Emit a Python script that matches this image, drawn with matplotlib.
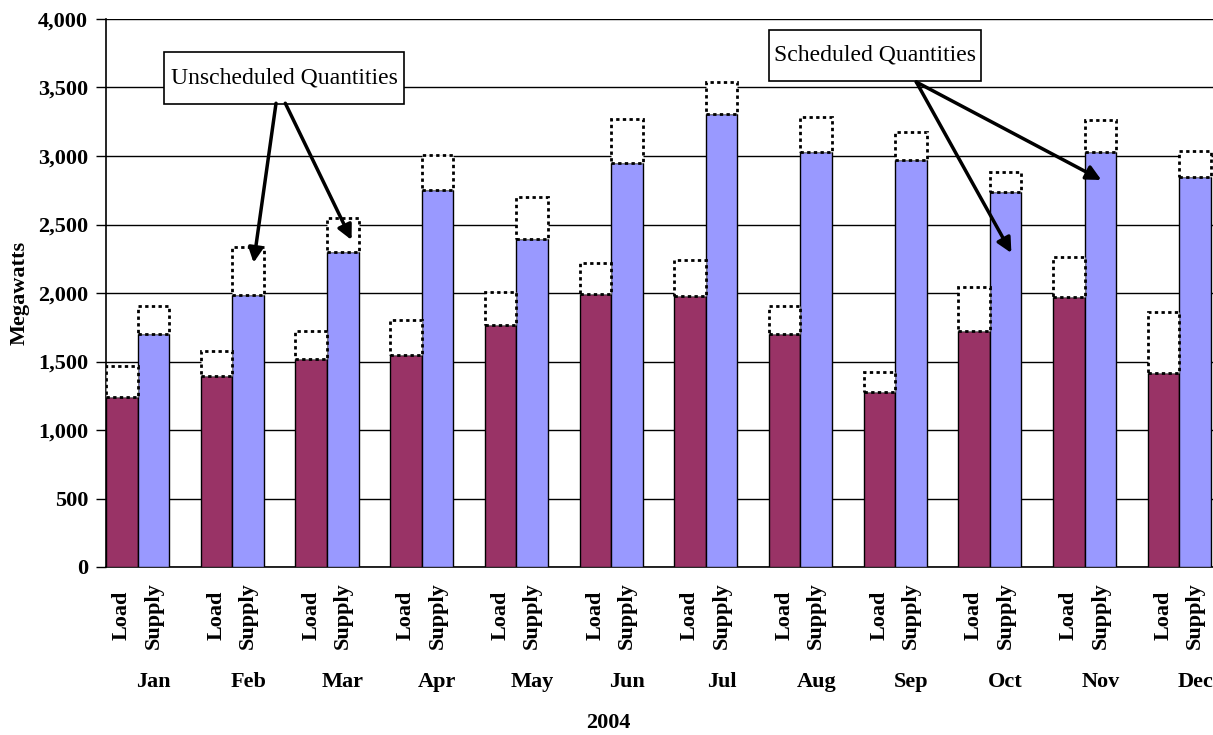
import matplotlib.pyplot as plt
from matplotlib.patches import Rectangle
import numpy as np

months = ["Jan", "Feb", "Mar", "Apr", "May", "Jun",
          "Jul", "Aug", "Sep", "Oct", "Nov", "Dec"]
# scheduled quantities (solid bars), MW
load_sched = [1240, 1397, 1520, 1547, 1763, 1994, 1979, 1700, 1275, 1724, 1971, 1414]
supply_sched = [1700, 1986, 2301, 2753, 2395, 2951, 3305, 3030, 2970, 2736, 3028, 2846]
# scheduled + unscheduled (top of dotted boxes), MW
load_total = [1469, 1580, 1719, 1804, 2006, 2221, 2243, 1908, 1421, 2046, 2265, 1863]
supply_total = [1908, 2338, 2547, 3008, 2703, 3270, 3537, 3287, 3172, 2885, 3263, 3039]

load_color = "#993366"
supply_color = "#9999FF"

plt.rcParams["font.family"] = ["Liberation Serif", "DejaVu Serif"]

fig = plt.figure(figsize=(12.13, 7.35), dpi=100)
ax = fig.add_axes([106 / 1213, 168 / 735, 1107 / 1213, 548 / 735])

x = np.arange(len(months))
w = 1 / 3
xl = x - w / 2
xs = x + w / 2

load_unsched = np.array(load_total) - np.array(load_sched)
supply_unsched = np.array(supply_total) - np.array(supply_sched)

ax.bar(xl, load_sched, w, color=load_color, edgecolor="black", lw=1, zorder=3)
ax.bar(xs, supply_sched, w, color=supply_color, edgecolor="black", lw=1, zorder=3)
ax.bar(xl, load_unsched, w, bottom=load_sched, color="white", edgecolor="black",
       lw=2, linestyle=(0, (1.2, 1.2)), zorder=3)
ax.bar(xs, supply_unsched, w, bottom=supply_sched, color="white", edgecolor="black",
       lw=2, linestyle=(0, (1.2, 1.2)), zorder=3)

ax.set_ylim(0, 4000)
ax.set_xlim(-w, 11.356)
ax.set_yticks(np.arange(0, 4001, 500))
ax.set_yticklabels([f"{v:,}" for v in range(0, 4001, 500)], fontsize=16, fontweight="bold")
ax.yaxis.grid(True, color="black", lw=1, zorder=0)
ax.set_axisbelow(True)
ax.tick_params(axis="y", length=7, width=1, pad=6, direction="out")

ticks = np.ravel(np.column_stack([xl, xs]))
labels = ["Load", "Supply"] * len(months)
ax.set_xticks(ticks)
ax.set_xticklabels(labels, rotation=90, fontsize=16, fontweight="bold")
for t in ax.get_xticklabels():
    t.set_va("center")
ax.tick_params(axis="x", length=0, pad=35)

for i, m in enumerate(months):
    ax.text(xs[i], -0.209, m, transform=ax.get_xaxis_transform(),
            ha="center", va="center", fontsize=16, fontweight="bold")

for s in ["top", "right"]:
    ax.spines[s].set_visible(False)
ax.spines["left"].set_lw(1.2)
ax.spines["bottom"].set_lw(1.2)

fig.text(20 / 1213, 1 - 293 / 735, "Megawatts", rotation=90, ha="center", va="center",
         fontsize=16, fontweight="bold")
fig.text(608 / 1213, 1 - 723 / 735, "2004", ha="center", va="center",
         fontsize=16, fontweight="bold")

# callout boxes
ax.add_patch(Rectangle((0.282, 3377), 2.535, 380, facecolor="white",
                       edgecolor="black", lw=1.2, zorder=5, clip_on=False))
ax.text(1.55, 3567, "Unscheduled Quantities", ha="center", va="center",
        fontsize=17, zorder=6)
ax.add_patch(Rectangle((6.671, 3547), 2.239, 373, facecolor="white",
                       edgecolor="black", lw=1.2, zorder=5, clip_on=False))
ax.text(7.79, 3734, "Scheduled Quantities", ha="center", va="center",
        fontsize=17, zorder=6)

arrow = dict(arrowstyle="-|>", color="black", lw=2.5, mutation_scale=22,
             shrinkA=0, shrinkB=0)
ax.annotate("", xy=(1.225, 2221), xytext=(1.462, 3385), arrowprops=arrow, zorder=7)
ax.annotate("", xy=(2.260, 2387), xytext=(1.560, 3385), arrowprops=arrow, zorder=7)
ax.annotate("", xy=(9.227, 2292), xytext=(8.223, 3540), arrowprops=arrow, zorder=7)
ax.annotate("", xy=(10.177, 2825), xytext=(8.223, 3540), arrowprops=arrow, zorder=7)

fig.savefig("out.png", dpi=100)
